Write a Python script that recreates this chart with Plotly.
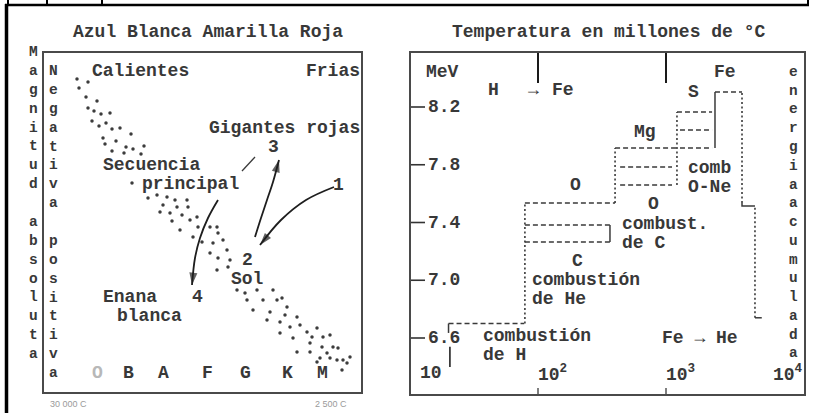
import math
import plotly.graph_objects as go

W, H = 813, 413

# ======================= DATA =======================
# ---- Left panel: Hertzsprung-Russell diagram (panel units) ----
spectral_classes = ["O", "B", "A", "F", "G", "K", "M"]
star_x = [77, 88, 79, 86, 97, 88, 94, 101, 110, 92, 99, 106, 112, 120, 131, 103, 116, 105, 126, 133,
          112, 124, 141, 144, 132,
          148, 157, 167, 175, 187, 163, 177, 188, 160, 170, 182, 197, 190, 172, 198, 210, 180, 193,
          217, 202, 213, 218, 223, 227, 210, 218, 230, 217, 228,
          237, 245, 257, 273, 247, 263, 277, 282, 287, 253, 270, 285, 267, 280, 297, 300, 290, 307,
          317, 280, 293, 312, 323, 330, 310, 322, 333, 338, 297, 310, 327, 320, 330, 337, 343, 350,
          317, 347, 342]
star_y = [79, 82, 88, 97, 101, 108, 111, 114, 113, 121, 126, 123, 129, 128, 134, 138, 141, 144, 147, 149,
          151, 153, 154, 146, 183,
          198, 195, 197, 200, 200, 205, 207, 207, 212, 213, 215, 217, 220, 221, 227, 227, 230, 237,
          227, 242, 243, 233, 240, 250, 253, 258, 260, 270, 267,
          290, 293, 290, 290, 300, 300, 300, 298, 307, 310, 312, 315, 320, 322, 317, 325, 327, 332,
          328, 333, 338, 337, 337, 335, 343, 347, 347, 348, 352, 352, 353, 358, 358, 360, 360, 357,
          362, 363, 370]

# evolutionary tracks (1 -> 2, 2 -> 3, main sequence -> 4)
track_12_x = [334, 306, 281, 260]
track_12_y = [187, 200, 220, 245]
track_23_x = [255, 261, 267, 273, 279]
track_23_y = [237, 218, 200, 182, 160]
track_34_x = [218, 208, 200, 195, 192]
track_34_y = [200, 218, 238, 258, 285]
leader_x = [242, 255]
leader_y = [171, 157]

# ---- Right panel: energy per nucleon vs temperature ----
energy_ticks = [-8.2, -7.8, -7.4, -7.0, -6.6]            # MeV
temp_ticks = [10, 100, 1000, 10000]                      # millions of deg C
temp_tick_text = ["10", "10<sup>2</sup>", "10<sup>3</sup>", "10<sup>4</sup>"]

# dashed energy levels of each burning stage
level_T_start = [20, 79, 79, 79, 400, 438, 438, 1218, 1286, 1286, 2414]
level_T_end = [78, 400, 365, 365, 1218, 1114, 1114, 2290, 2290, 2290, 3925]
level_E = [-6.70, -7.535, -7.383, -7.265, -7.916, -7.784, -7.660, -8.165, -8.041, -7.916, -8.304]

# dotted vertical walls between stages
wall_T = [79, 400, 1218, 3925, 4955]
wall_E_low = [-6.70, -7.535, -7.660, -7.535, -6.74]
wall_E_high = [-7.535, -7.916, -8.165, -8.304, -7.515]

# solid brackets closing groups of levels
bracket_T = [365, 2414, 20]
bracket_E_low = [-7.265, -7.916, -6.635]
bracket_E_high = [-7.383, -8.304, -6.700]

# step of accumulated energy and its foot
step_T = [3925, 3925, 4955]
step_E = [-7.535, -7.515, -7.515]
foot_T = [4955, 5600]
foot_E = [-6.74, -6.74]
h_mark_T = [20.5, 20.5]
h_mark_E = [-6.54, -6.40]

# ======================= LAYOUT HELPERS =======================
MONO = "Liberation Mono, DejaVu Sans Mono, monospace"
INK = "#383838"
LINE = "#3a3a3a"
FS = 18

def px(x):
    return x / W

def py(y):
    return 1 - y / H

RX0, RX1, RY0, RY1 = 410, 805, 52, 395
DEC = 128.0
MEV_PX = 144.375
E_TOP = -8.2 - (107 - RY0) / MEV_PX
E_BOT = -8.2 + (RY1 - 107) / MEV_PX
LOG_MAX = 1 + (RX1 - RX0) / DEC

fig = go.Figure()
ann = []
shapes = []


def text(t, x, y, xa="center", size=FS, color=INK, family=MONO, weight="bold"):
    ann.append(dict(text=t, x=px(x), y=py(y), xref="paper", yref="paper",
                    xanchor=xa, yanchor="middle", showarrow=False, align="center",
                    font=dict(family=family, size=size, color=color, weight=weight)))


def column(letters, x, y_first, step):
    n = len(letters)
    size = step / 1.3
    body = "<br>".join(ch if ch != " " else "\u00a0" for ch in letters)
    text(body, x, y_first + (n - 1) * step / 2, size=size)


def line_trace(xs, ys, axis, dash="solid", width=1.6, color=LINE):
    fig.add_trace(go.Scatter(x=xs, y=ys, mode="lines", xaxis="x" if axis == 1 else "x2",
                             yaxis="y" if axis == 1 else "y2", cliponaxis=False,
                             line=dict(color=color, width=width, dash=dash),
                             hoverinfo="skip", showlegend=False))


# ======================= LEFT PANEL =======================
fig.add_trace(go.Scatter(x=star_x, y=star_y, mode="markers", xaxis="x", yaxis="y",
                         marker=dict(size=3.5, color="#3c3c3c"), hoverinfo="skip",
                         showlegend=False))
for tx, ty in [(track_12_x, track_12_y), (track_23_x, track_23_y), (track_34_x, track_34_y)]:
    n = len(tx)
    fig.add_trace(go.Scatter(x=tx, y=ty, mode="lines+markers", xaxis="x", yaxis="y",
                             line=dict(color="#1e1e1e", width=1.8, shape="spline"),
                             marker=dict(symbol="arrow", angleref="previous",
                                         size=[0] * (n - 1) + [13], color="#1e1e1e",
                                         line=dict(width=0)),
                             hoverinfo="skip", showlegend=False))
line_trace(leader_x, leader_y, 1, width=1.3)

text("Azul Blanca Amarilla Roja", 208, 32)
STEP = 18.875
column("Magnitud absoluta", 33, 71 - STEP, STEP)
column("Negativa positiva", 53, 71, STEP)

text("Calientes", 90, 71, xa="left")
text("Frias", 362, 71, xa="right")
text("Gigantes rojas", 362, 128, xa="right")
text("3", 273, 147)
text("Secuencia", 101, 165, xa="left")
text("principal", 140, 184, xa="left")
text("1", 338, 185)
text("2", 248, 260)
text("Sol", 248, 279)
text("Enana", 101, 297, xa="left")
text("4", 197, 297)
text("blanca", 115, 316, xa="left")

spectral_px = [97, 128, 163, 207, 245, 287, 322]
for cls, xp in zip(spectral_classes, spectral_px):
    text(cls, xp, 373, color="#b8b8b8" if cls == "O" else INK)

text("30 000 C", 68, 404, size=9, color="#9a9a9a", family="Liberation Sans, Arial, sans-serif",
     weight="normal")
text("2 500 C", 331, 404, size=9, color="#9a9a9a", family="Liberation Sans, Arial, sans-serif",
     weight="normal")

# ======================= RIGHT PANEL =======================
for t0, t1, e in zip(level_T_start, level_T_end, level_E):
    line_trace([t0, t1], [e, e], 2, dash="5px,3px", width=1.5)
for t, e0, e1 in zip(wall_T, wall_E_low, wall_E_high):
    line_trace([t, t], [e0, e1], 2, dash="2px,2.5px", width=1.6)
for t, e0, e1 in zip(bracket_T, bracket_E_low, bracket_E_high):
    line_trace([t, t], [e0, e1], 2, width=1.5)
line_trace(step_T, step_E, 2, width=1.5)
line_trace(foot_T, foot_E, 2, width=1.5)
line_trace(h_mark_T, h_mark_E, 2, width=1.8)

# temperature tick lines (top, long; bottom, short) and energy tick dashes
E_TOP_TICK = -8.2 - (107 - 83) / MEV_PX
E_BOT_TICK = -8.2 + (388 - 107) / MEV_PX
for t in temp_ticks[1:3]:
    line_trace([t, t], [E_TOP, E_TOP_TICK], 2, width=2, color="#1a1a1a")
    line_trace([t, t], [E_BOT, E_BOT_TICK], 2, width=1.5, color="#555")
T_DASH_END = 10 ** (1 + 15 / DEC)
for e in energy_ticks:
    line_trace([10, T_DASH_END], [e, e], 2, width=1.6, color="#333")
    ann.append(dict(text="%.1f" % abs(e), x=px(426), y=e, xref="paper", yref="y2",
                    xanchor="left", yanchor="middle", showarrow=False,
                    font=dict(family=MONO, size=FS, color=INK, weight="bold")))

for t, lab in zip(temp_ticks, temp_tick_text):
    lv = math.log10(t)
    if t == temp_ticks[0]:
        xa, xs = "left", 8
    elif t == temp_ticks[-1]:
        xa, xs = "right", 11
    else:
        xa, xs = "left", -2
    ann.append(dict(text=lab, x=lv, y=py(373), xref="x2", yref="paper", xanchor=xa,
                    xshift=xs, yanchor="middle", showarrow=False,
                    font=dict(family=MONO, size=FS, color=INK, weight="bold")))

text("Temperatura en millones de \u00b0C", 608, 32)
text("MeV", 424, 72, xa="left")
text("H", 493, 90)
text("\u2192", 533, 90)
text("Fe", 563, 90)
text("Fe", 725, 72)
text("S", 693, 92)
text("Mg", 645, 132)
text("O", 575, 185)
text("comb", 686, 168, xa="left")
text("O-Ne", 686, 187, xa="left")
text("O", 653, 204)
text("combust.", 620, 224, xa="left")
text("de C", 620, 243, xa="left")
text("C", 577, 261)
text("combusti\u00f3n", 530, 280, xa="left")
text("de He", 530, 299, xa="left")
text("combusti\u00f3n", 481, 336, xa="left")
text("de H", 481, 355, xa="left")
text("Fe \u2192 He", 660, 338, xa="left")
column("energiaacumulada", 793, 72, 18.75)

# ======================= FRAMES =======================
box = dict(type="rect", xref="paper", yref="paper", line=dict(color="#4a4a4a", width=2),
           fillcolor="rgba(0,0,0,0)")
shapes.append(dict(box, x0=px(43), x1=px(362), y0=py(393), y1=py(52)))
shapes.append(dict(box, x0=px(RX0), x1=px(RX1), y0=py(RY1), y1=py(RY0)))

page = dict(type="line", xref="paper", yref="paper", line=dict(color="black", width=2.5))
shapes.append(dict(page, x0=px(5), x1=px(809), y0=py(5), y1=py(5)))
shapes.append(dict(page, x0=px(6.5), x1=px(6.5), y0=py(413), y1=py(4),
                   line=dict(color="black", width=3.5)))
for xt in [8, 47, 102, 808]:
    shapes.append(dict(page, x0=px(xt), x1=px(xt), y0=py(5), y1=py(0),
                       line=dict(color="black", width=2)))

fig.update_layout(
    width=W, height=H, margin=dict(l=0, r=0, t=0, b=0), autosize=False,
    paper_bgcolor="white", plot_bgcolor="rgba(0,0,0,0)",
    xaxis=dict(domain=[px(43), px(362)], range=[43, 362], visible=False, fixedrange=True),
    yaxis=dict(domain=[py(393), py(52)], range=[393, 52], visible=False, fixedrange=True),
    xaxis2=dict(domain=[px(RX0), px(RX1)], type="log", range=[1, LOG_MAX], visible=False,
                fixedrange=True, anchor="y2"),
    yaxis2=dict(domain=[py(RY1), py(RY0)], range=[E_BOT, E_TOP], visible=False,
                fixedrange=True, anchor="x2"),
    annotations=ann, shapes=shapes, showlegend=False,
)

fig.write_html("out.html", config={"displayModeBar": False},
               post_script="document.body.style.margin='0';document.body.style.overflow='hidden';")
